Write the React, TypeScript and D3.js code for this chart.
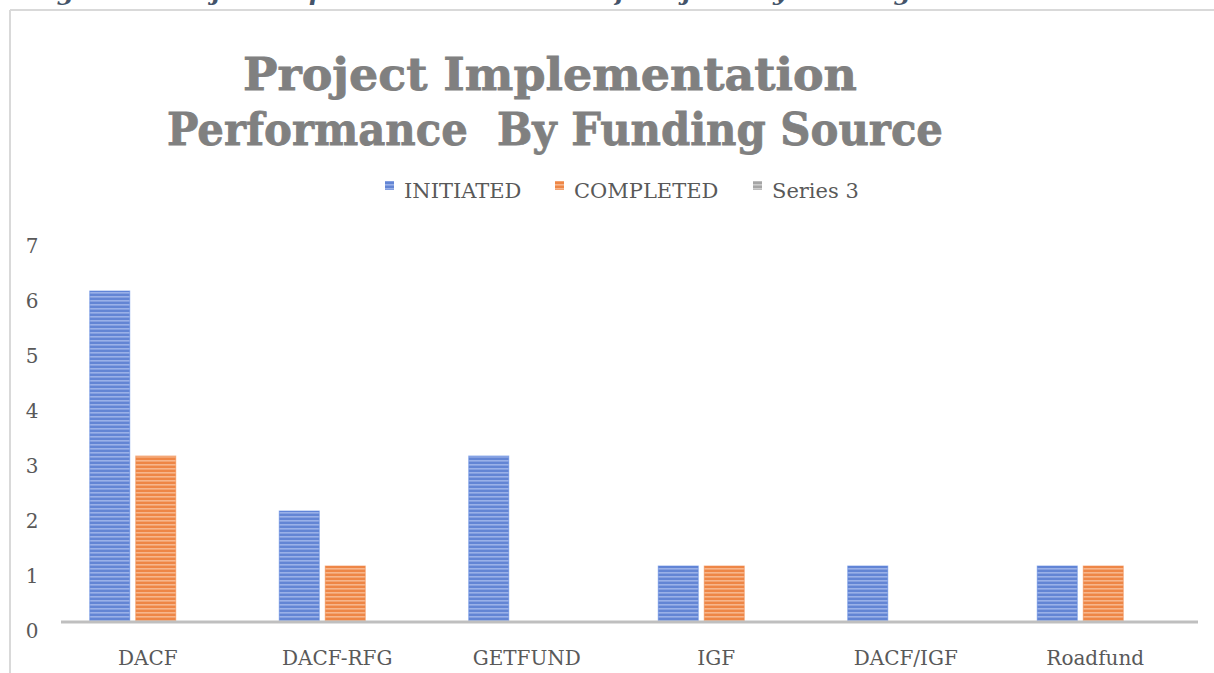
import React from "react";
import * as d3 from "d3";

const categories = ["DACF", "DACF-RFG", "GETFUND", "IGF", "DACF/IGF", "Roadfund"];
const seriesNames = ["INITIATED", "COMPLETED", "Series 3"];
const initiated = [6, 2, 3, 1, 1, 1];
const completed = [3, 1, 0, 1, 0, 1];
const series3 = [0, 0, 0, 0, 0, 0];
const yTicks = [0, 1, 2, 3, 4, 5, 6, 7];
const titleLines = ["Project Implementation", "Performance  By Funding Source"];
const caption = "Figure 4: Project Implementation Status of Projects by Funding Source";

const W = 1214;
const H = 673;
const FONT = "'DejaVu Serif', 'Liberation Serif', serif";

const seriesValues = [initiated, completed, series3];
const patternIds = ["stripeBlue", "stripeOrange", "stripeGray"];

export default function App() {
  const x0 = d3.scaleBand<string>().domain(categories).range([61, 1198]).paddingInner(0).paddingOuter(0);
  const bw0 = x0.bandwidth();
  const x1 = d3
    .scaleBand<string>()
    .domain(seriesNames)
    .range([bw0 / 2 - 66, bw0 / 2 + 66])
    .paddingInner(6 / 46)
    .paddingOuter(0);
  const y = d3.scaleLinear().domain([0, 7]).range([621, 236]);

  const legendX = [385, 555, 753];

  return (
    <svg
      width={W}
      height={H}
      style={{ position: "absolute", left: 0, top: 0, background: "#fff" }}
      fontFamily={FONT}
    >
      <defs>
        <pattern id="stripeBlue" width="6" height="4" patternUnits="userSpaceOnUse">
          <rect width="6" height="4" fill="#6385D4" />
          <rect y="0" width="6" height="1.6" fill="#9AB1E8" />
        </pattern>
        <pattern id="stripeOrange" width="6" height="4" patternUnits="userSpaceOnUse">
          <rect width="6" height="4" fill="#EE8646" />
          <rect y="0" width="6" height="1.6" fill="#F7B68C" />
        </pattern>
        <pattern id="stripeGray" width="6" height="4" patternUnits="userSpaceOnUse">
          <rect width="6" height="4" fill="#A5A5A5" />
          <rect y="0" width="6" height="1.6" fill="#CCCCCC" />
        </pattern>
      </defs>

      {/* cropped caption (cut off at top in the reference) */}
      <text
        x={30}
        y={0}
        fontSize={24}
        fontWeight="bold"
        fontStyle="italic"
        fill="#44546A"
        textLength={985}
        lengthAdjust="spacingAndGlyphs"
      >
        {caption}
      </text>

      {/* chart frame */}
      <line x1={10} x2={W} y1={10} y2={10} stroke="#D9D9D9" strokeWidth={2} />
      <line x1={10} x2={10} y1={10} y2={H} stroke="#D9D9D9" strokeWidth={2} />

      {/* title */}
      <text
        x={550}
        y={90}
        textAnchor="middle"
        fontSize={45}
        fontWeight="bold"
        fill="#808080"
        stroke="#808080"
        strokeWidth={0.8}
        textLength={614}
        lengthAdjust="spacingAndGlyphs"
      >
        {titleLines[0]}
      </text>
      <text
        x={555}
        y={145}
        textAnchor="middle"
        fontSize={45}
        fontWeight="bold"
        fill="#808080"
        stroke="#808080"
        strokeWidth={0.8}
        textLength={776}
        lengthAdjust="spacingAndGlyphs"
        style={{ whiteSpace: "pre" }}
      >
        {titleLines[1]}
      </text>

      {/* legend */}
      {seriesNames.map((s, i) => (
        <g key={s}>
          <rect x={legendX[i]} y={181} width={9} height={9} fill={`url(#${patternIds[i]})`} />
          <text x={legendX[i] + 19} y={198} fontSize={21} fill="#595959">
            {s}
          </text>
        </g>
      ))}

      {/* y tick labels */}
      {yTicks.map((t) => (
        <text key={t} x={32} y={y(t) + 17} textAnchor="middle" fontSize={20} fill="#595959">
          {t}
        </text>
      ))}

      {/* bars */}
      {categories.map((c, ci) => (
        <g key={c} transform={`translate(${x0(c)},0)`}>
          {seriesNames.map((s, si) => {
            const v = seriesValues[si][ci];
            if (v <= 0) return null;
            return (
              <rect
                key={s}
                x={x1(s)}
                y={y(v)}
                width={x1.bandwidth()}
                height={y(0) - y(v)}
                fill={`url(#${patternIds[si]})`}
                stroke={si === 0 ? "#5B86E0" : si === 1 ? "#F08A4C" : "#A5A5A5"}
                strokeWidth={1}
                strokeOpacity={0.6}
              />
            );
          })}
        </g>
      ))}

      {/* x axis line */}
      <line x1={61} x2={1198} y1={y(0) + 1} y2={y(0) + 1} stroke="#BFBFBF" strokeWidth={3} />

      {/* category labels */}
      {categories.map((c) => (
        <text
          key={c}
          x={(x0(c) as number) + bw0 / 2 - 8}
          y={665}
          textAnchor="middle"
          fontSize={20}
          fill="#595959"
        >
          {c}
        </text>
      ))}
    </svg>
  );
}
